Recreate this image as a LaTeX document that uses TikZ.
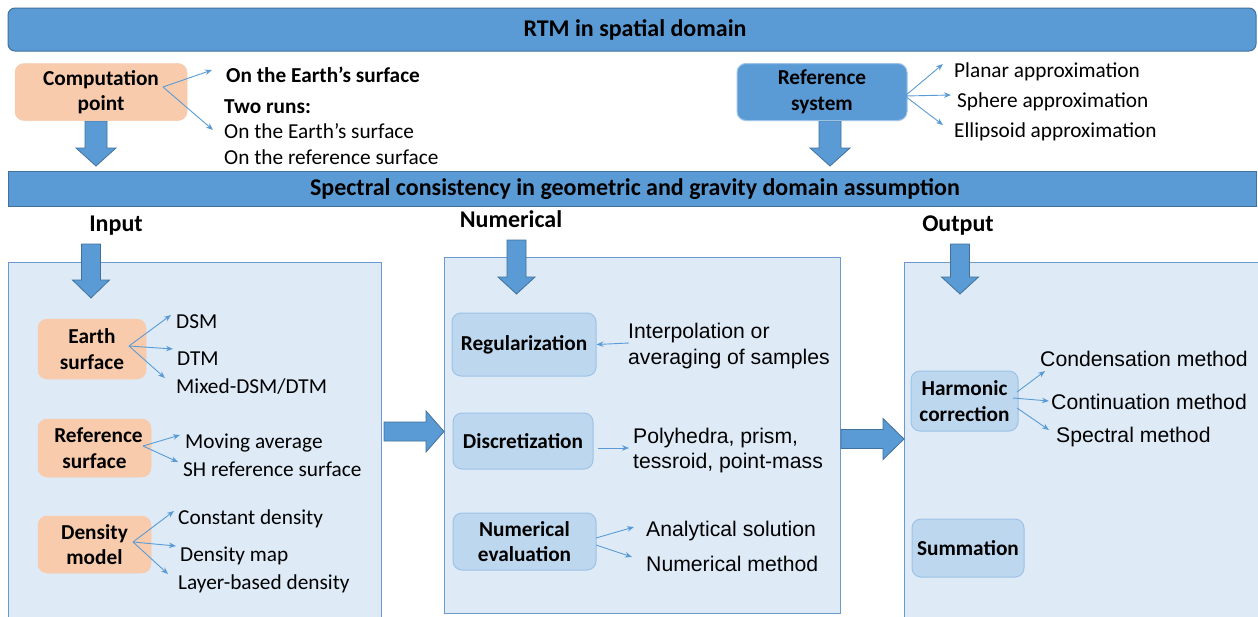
\documentclass[tikz,border=0pt]{standalone}
\usepackage{fontspec}
\setmainfont{Carlito}
\newfontfamily\arialf{Liberation Sans}
\usetikzlibrary{arrows.meta}
\definecolor{barblue}{HTML}{5B9BD5}
\definecolor{bardark}{HTML}{41719C}
\definecolor{peach}{HTML}{F8CBAD}
\definecolor{panelfill}{HTML}{DEEBF7}
\definecolor{panelline}{HTML}{6A9AD0}
\definecolor{boxfill}{HTML}{BDD7EE}
\definecolor{boxline}{HTML}{9DC3E6}
\newcommand\fsr{\fontsize{21.3}{25.6}\selectfont}
\newcommand\fsb{\fontsize{21.3}{25.6}\selectfont\bfseries}
\newcommand\fsh{\fontsize{24}{29}\selectfont\bfseries}
\newcommand\fsa{\fontsize{21.2}{25}\selectfont\arialf}
% down block arrow: cx, top, headtop, tip, shaft half, head half
\newcommand\blkdown[6]{\draw[blk] (#1-#5,#2) -- (#1+#5,#2) -- (#1+#5,#3) -- (#1+#6,#3) -- (#1,#4) -- (#1-#6,#3) -- (#1-#5,#3) -- cycle;}
% right block arrow: left x, head base x, tip x, cy, shaft half, head half
\newcommand\blkright[6]{\draw[blk] (#1,#4-#5) -- (#2,#4-#5) -- (#2,#4-#6) -- (#3,#4) -- (#2,#4+#6) -- (#2,#4+#5) -- (#1,#4+#5) -- cycle;}
\tikzset{
 bar/.style={draw=bardark, fill=barblue, line width=1pt},
 blk/.style={draw=bardark, fill=barblue, line width=0.8pt},
 panel/.style={draw=panelline, fill=panelfill, line width=1pt},
 peachbox/.style={fill=peach, draw=peach, rounded corners=9pt, line width=0.5pt, align=center, font=\fsb, inner sep=0pt},
 bluebox/.style={fill=boxfill, draw=boxline, rounded corners=9pt, line width=1pt, align=center, font=\fsb, inner sep=0pt},
 lbl/.style={anchor=west, inner sep=0pt, font=\fsr, text height=15pt, text depth=3pt},
 blbl/.style={lbl, font=\fsb},
 albl/.style={anchor=west, inner sep=0pt, font=\fsa, text height=15pt, text depth=3pt},
 hdr/.style={inner sep=0pt, font=\fsh, text height=17pt, text depth=4pt},
 sarr/.style={draw=barblue, line width=0.9pt, -{Stealth[length=7pt,width=5.5pt]}},
}
\begin{document}
\begin{tikzpicture}[x=1pt,y=-1pt]
\useasboundingbox (0,0) rectangle (1258,616);
\fill[white] (0,0) rectangle (1258,616);
% panels
\draw[panel] (8,262) rectangle (381,630);
\draw[panel] (444,257) rectangle (840,613);
\draw[panel] (904,262) rectangle (1270,630);
% bars
\draw[bar, rounded corners=7pt] (8,8) rectangle (1256,51);
\node[hdr] (title) at (635,30) {RTM in spatial domain};
\draw[bar] (8,171) rectangle (1256,206);
\node[hdr] (spec) at (635,189) {Spectral consistency in geometric and gravity domain assumption};
% headers
\node[hdr] (input) at (116,225) {Input};
\node[hdr] (numer) at (511,221) {Numerical};
\node[hdr] (output) at (958,225) {Output};
% block arrows
\blkdown{96}{121}{148}{166}{11}{20}
\blkdown{830}{121}{148}{166}{11}{20}
\blkdown{91}{244}{280}{298}{9.5}{18.5}
\blkdown{516.5}{240}{277}{294}{9.5}{18.5}
\blkdown{960}{244}{277}{294}{9.5}{18.5}
\blkright{384}{426}{444}{431.5}{9.5}{20.5}
\blkright{841}{883}{904}{439}{9.5}{20.5}
% top boxes
\node[peachbox, minimum width=172pt, minimum height=57pt] (cp) at (101,92) {Computation\\point};
\node[bluebox, fill=barblue, minimum width=170pt, minimum height=57pt] (rs) at (822,92) {Reference\\system};
\node[blbl] (cp1) at (226,76) {On the Earth’s surface};
\node[blbl] (cp2) at (224,107) {Two runs:};
\node[lbl] (cp3) at (224,132) {On the Earth’s surface};
\node[lbl] (cp4) at (224,158) {On the reference surface};
\node[lbl] (rs1) at (954,71) {Planar approximation};
\node[lbl] (rs2) at (957,101) {Sphere approximation};
\node[lbl] (rs3) at (954,131) {Ellipsoid approximation};
\coordinate (cpo) at (163,87);
\coordinate (cpe1) at (212,70);
\coordinate (cpe2) at (213,130);
\draw[sarr] (cpo) -- (cpe1);
\draw[sarr] (cpo) -- (cpe2);
\coordinate (rso) at (905,96);
\coordinate (rse1) at (943,64);
\coordinate (rse2) at (951,95);
\coordinate (rse3) at (943,125);
\draw[sarr] (rso) -- (rse1);
\draw[sarr] (rso) -- (rse2);
\draw[sarr] (rso) -- (rse3);
% input panel
\node[peachbox, minimum width=108pt, minimum height=60pt] (es) at (92,349) {Earth\\surface};
\node[peachbox, minimum width=113pt, minimum height=58pt] (rsf) at (94.5,448) {\hspace*{8pt}Reference\\surface};
\node[peachbox, minimum width=113pt, minimum height=57pt] (dm) at (94.5,544.5) {Density\\model};
\node[lbl] (dsm) at (176,322) {DSM};
\node[lbl] (dtm) at (177,359) {DTM};
\node[lbl] (mix) at (176,387) {Mixed-DSM/DTM};
\node[lbl] (mav) at (185,442) {Moving average};
\node[lbl] (shr) at (183,470) {SH reference surface};
\node[lbl] (cden) at (178,518) {Constant density};
\node[lbl] (dmap) at (180,555) {Density map};
\node[lbl] (lden) at (178,583) {Layer-based density};
\coordinate (eso) at (129,346);
\coordinate (ese1) at (171,315);
\coordinate (ese2) at (173,349);
\coordinate (ese3) at (165,378);
\draw[sarr] (eso) -- (ese1);
\draw[sarr] (eso) -- (ese2);
\draw[sarr] (eso) -- (ese3);
\coordinate (rsfo) at (143,446);
\coordinate (rsfe1) at (180,435);
\coordinate (rsfe2) at (178,462);
\draw[sarr] (rsfo) -- (rsfe1);
\draw[sarr] (rsfo) -- (rsfe2);
\coordinate (dmo) at (133,542);
\coordinate (dme1) at (174,511);
\coordinate (dme2) at (176,546);
\coordinate (dme3) at (168,574);
\draw[sarr] (dmo) -- (dme1);
\draw[sarr] (dmo) -- (dme2);
\draw[sarr] (dmo) -- (dme3);
% numerical panel
\node[bluebox, minimum width=144pt, minimum height=63pt] (reg) at (524,344.5) {Regularization};
\node[bluebox, minimum width=140pt, minimum height=56pt] (disc) at (523,441) {Discretization};
\node[bluebox, minimum width=143pt, minimum height=57pt] (ne) at (524.5,541.5) {Numerical\\evaluation};
\node[albl] (int1) at (628,332) {Interpolation or};
\node[albl] (int2) at (628,358) {averaging of samples};
\node[albl] (pol1) at (633,437) {Polyhedra, prism,};
\node[albl] (pol2) at (633,462) {tessroid, point-mass};
\node[albl] (ana) at (646,530) {Analytical solution};
\node[albl] (num) at (646,565) {Numerical method};
\coordinate (rego) at (629,343);
\draw[sarr] (rego) -- (reg.east);
\coordinate (disco) at (598,448);
\coordinate (disce) at (629,448);
\draw[sarr] (disco) -- (disce);
\coordinate (neo1) at (596,538);
\coordinate (neo2) at (596,545);
\coordinate (nee1) at (634,527);
\coordinate (nee2) at (632,557);
\draw[sarr] (neo1) -- (nee1);
\draw[sarr] (neo2) -- (nee2);
% output panel
\node[bluebox, minimum width=107pt, minimum height=60pt] (hc) at (964.5,401) {Harmonic\\correction};
\node[bluebox, minimum width=112pt, minimum height=58pt] (sum) at (968,548) {Summation};
\node[albl] (cond) at (1040,360) {Condensation method};
\node[albl] (cont) at (1051,403) {Continuation method};
\node[albl] (spm) at (1056,436) {Spectral method};
\coordinate (hco1) at (1017,392);
\coordinate (hco2) at (1013,398);
\coordinate (hco3) at (1017,408);
\coordinate (hce1) at (1045,371);
\coordinate (hce2) at (1049,401);
\coordinate (hce3) at (1049,430);
\draw[sarr] (hco1) -- (hce1);
\draw[sarr] (hco2) -- (hce2);
\draw[sarr] (hco3) -- (hce3);
\end{tikzpicture}
\end{document}
